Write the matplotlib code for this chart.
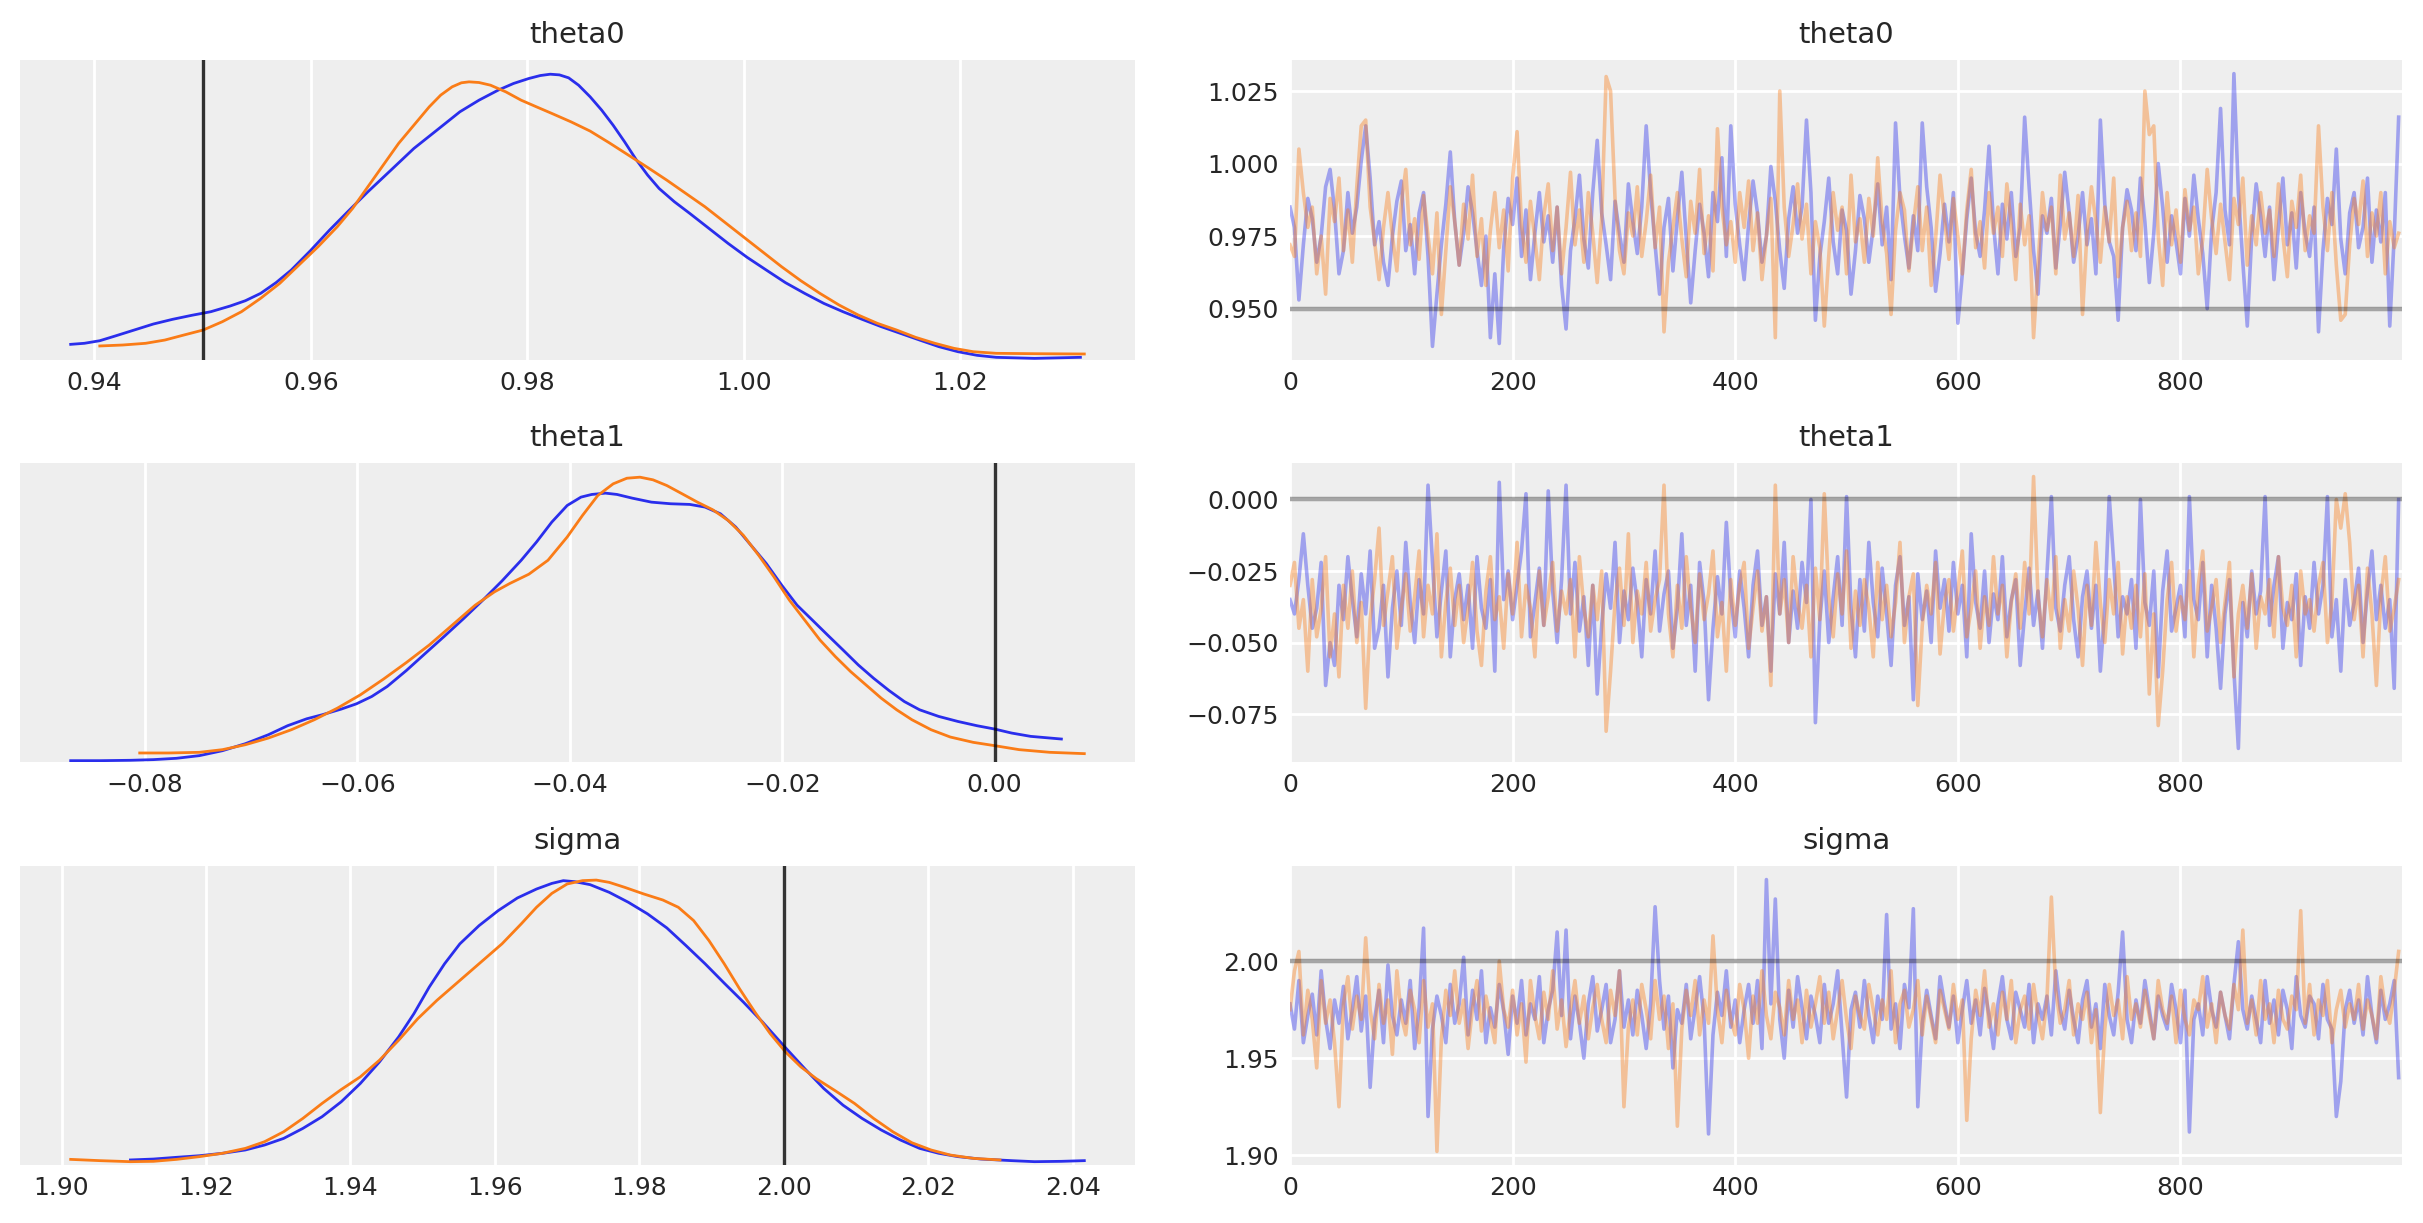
import numpy as np
import matplotlib
matplotlib.use('Agg')
import matplotlib.pyplot as plt
from matplotlib.ticker import MultipleLocator

# posterior trace plot, two chains, 3 parameters
names = ['theta0', 'theta1', 'sigma']
ref_vals = [0.95, 0.0, 2.0]
colors = ['#2a2eec', '#fa7c17']

# KDE curves (x, density), chain 0 / chain 1
kde_x = {
    'theta0': [
        [0.93781, 0.93908, 0.94050, 0.94191, 0.94368, 0.94545, 0.94722, 0.94899, 0.95076, 0.95253,
         0.95395, 0.95536, 0.95678, 0.95819, 0.95996, 0.96173, 0.96350, 0.96527, 0.96740, 0.96952,
         0.97165, 0.97377, 0.97554, 0.97731, 0.97873, 0.98014, 0.98120, 0.98212, 0.98297, 0.98382,
         0.98474, 0.98581, 0.98687, 0.98793, 0.98899, 0.99005, 0.99112, 0.99218, 0.99359, 0.99501,
         0.99678, 0.99855, 1.00032, 1.00209, 1.00386, 1.00563, 1.00740, 1.00917, 1.01094, 1.01271,
         1.01448, 1.01625, 1.01802, 1.01979, 1.02156, 1.02333, 1.02687, 1.03111],
        [0.94050, 0.94262, 0.94474, 0.94651, 0.94828, 0.95005, 0.95182, 0.95359, 0.95536, 0.95713,
         0.95890, 0.96067, 0.96244, 0.96386, 0.96527, 0.96669, 0.96811, 0.96952, 0.97094, 0.97200,
         0.97306, 0.97391, 0.97462, 0.97554, 0.97660, 0.97802, 0.97943, 0.98085, 0.98227, 0.98404,
         0.98581, 0.98758, 0.98935, 0.99112, 0.99288, 0.99465, 0.99642, 0.99819, 0.99996, 1.00173,
         1.00350, 1.00527, 1.00704, 1.00881, 1.01058, 1.01235, 1.01412, 1.01589, 1.01766, 1.01943,
         1.02120, 1.02333, 1.02687, 1.03147]],
    'theta1': [
        [-0.08700, -0.08426, -0.08137, -0.07921, -0.07704, -0.07488, -0.07271, -0.07055, -0.06839, -0.06658,
         -0.06478, -0.06334, -0.06153, -0.06009, -0.05865, -0.05720, -0.05540, -0.05360, -0.05179, -0.04999,
         -0.04819, -0.04638, -0.04458, -0.04314, -0.04170, -0.04025, -0.03895, -0.03794, -0.03665, -0.03556,
         -0.03412, -0.03232, -0.03051, -0.02871, -0.02727, -0.02583, -0.02438, -0.02294, -0.02150, -0.02005,
         -0.01861, -0.01717, -0.01573, -0.01428, -0.01284, -0.01140, -0.00995, -0.00851, -0.00707, -0.00527,
         -0.00346, -0.00166, 0.00000, 0.00159, 0.00339, 0.00628],
        [-0.08050, -0.07776, -0.07488, -0.07271, -0.07055, -0.06839, -0.06622, -0.06406, -0.06189, -0.05973,
         -0.05756, -0.05540, -0.05324, -0.05107, -0.04891, -0.04710, -0.04566, -0.04386, -0.04206, -0.04025,
         -0.03881, -0.03737, -0.03592, -0.03463, -0.03340, -0.03217, -0.03087, -0.02943, -0.02799, -0.02655,
         -0.02510, -0.02366, -0.02222, -0.02078, -0.01933, -0.01789, -0.01645, -0.01500, -0.01356, -0.01212,
         -0.01068, -0.00923, -0.00779, -0.00599, -0.00418, -0.00202, 0.00000, 0.00231, 0.00519, 0.00844]],
    'sigma': [
        [1.90954, 1.91273, 1.91591, 1.91909, 1.92227, 1.92545, 1.92810, 1.93075, 1.93340, 1.93606,
         1.93871, 1.94136, 1.94401, 1.94666, 1.94878, 1.95090, 1.95302, 1.95514, 1.95780, 1.96045,
         1.96310, 1.96575, 1.96787, 1.96946, 1.97105, 1.97317, 1.97582, 1.97847, 1.98112, 1.98378,
         1.98643, 1.98908, 1.99173, 1.99438, 1.99703, 2.00011, 2.00286, 2.00551, 2.00817, 2.01082,
         2.01347, 2.01612, 2.01877, 2.02142, 2.02407, 2.02725, 2.03150, 2.03468, 2.03839, 2.04157],
        [1.90127, 1.90530, 1.90954, 1.91273, 1.91591, 1.91909, 1.92227, 1.92545, 1.92810, 1.93075,
         1.93340, 1.93606, 1.93871, 1.94136, 1.94401, 1.94666, 1.94931, 1.95196, 1.95514, 1.95832,
         1.96097, 1.96363, 1.96575, 1.96787, 1.96999, 1.97211, 1.97402, 1.97582, 1.97794, 1.98059,
         1.98324, 1.98537, 1.98749, 1.98961, 1.99173, 1.99385, 1.99597, 1.99809, 2.00021, 2.00233,
         2.00445, 2.00711, 2.00976, 2.01241, 2.01506, 2.01771, 2.02036, 2.02301, 2.02619, 2.02990]],
}
kde_y = {
    'theta0': [
        [1.64, 1.75, 2.02, 2.51, 3.14, 3.77, 4.26, 4.68, 5.06, 5.65,
         6.21, 6.98, 8.10, 9.42, 11.45, 13.61, 15.64, 17.62, 19.89, 22.16,
         24.08, 26.00, 27.22, 28.27, 28.97, 29.49, 29.80, 29.94, 29.87, 29.56,
         28.79, 27.57, 26.18, 24.60, 22.86, 21.01, 19.37, 17.97, 16.58, 15.36,
         13.79, 12.22, 10.75, 9.42, 8.10, 6.98, 5.93, 5.06, 4.26, 3.49,
         2.79, 2.09, 1.40, 0.87, 0.49, 0.28, 0.17, 0.28],
        [1.47, 1.57, 1.75, 2.09, 2.62, 3.14, 4.01, 5.06, 6.46, 8.03,
         9.95, 11.87, 13.96, 15.88, 18.15, 20.42, 22.69, 24.60, 26.52, 27.75,
         28.62, 29.04, 29.14, 29.07, 28.79, 28.09, 27.22, 26.52, 25.83, 24.95,
         23.98, 22.75, 21.46, 20.17, 18.85, 17.45, 16.05, 14.48, 12.91, 11.34,
         9.77, 8.31, 6.98, 5.76, 4.71, 3.84, 3.14, 2.37, 1.75, 1.22,
         0.87, 0.70, 0.66, 0.63]],
    'theta1': [
        [0.14, 0.14, 0.18, 0.25, 0.39, 0.67, 1.19, 1.93, 2.87, 3.82,
         4.55, 4.97, 5.57, 6.13, 6.90, 7.95, 9.63, 11.45, 13.27, 15.12,
         17.05, 19.08, 21.25, 23.17, 25.27, 27.02, 27.90, 28.18, 28.32, 28.18,
         27.79, 27.37, 27.20, 27.13, 26.85, 26.15, 24.75, 22.82, 20.90, 18.62,
         16.52, 14.95, 13.37, 11.80, 10.22, 8.82, 7.53, 6.37, 5.50, 4.80,
         4.27, 3.82, 3.47, 3.05, 2.70, 2.42],
        [0.95, 0.95, 1.02, 1.30, 1.82, 2.52, 3.40, 4.45, 5.67, 7.07,
         8.72, 10.47, 12.32, 14.42, 16.52, 17.92, 18.80, 19.78, 21.25, 23.70,
         25.97, 28.07, 29.30, 29.89, 30.00, 29.72, 29.12, 28.25, 27.37, 26.57,
         25.45, 23.87, 21.77, 19.50, 17.05, 14.95, 12.85, 11.10, 9.52, 8.12,
         6.72, 5.50, 4.45, 3.40, 2.63, 2.07, 1.72, 1.30, 1.02, 0.88]],
    'sigma': [
        [0.44, 0.52, 0.67, 0.81, 1.02, 1.31, 1.74, 2.32, 3.19, 4.21,
         5.51, 7.11, 8.99, 11.17, 13.20, 15.52, 17.55, 19.29, 20.88, 22.19,
         23.29, 24.07, 24.56, 24.80, 24.71, 24.45, 23.78, 22.91, 21.90, 20.68,
         19.14, 17.55, 15.86, 14.21, 12.47, 10.30, 8.41, 6.67, 5.22, 4.06,
         3.05, 2.18, 1.45, 1.02, 0.73, 0.52, 0.38, 0.29, 0.32, 0.38],
        [0.49, 0.38, 0.29, 0.32, 0.49, 0.73, 1.02, 1.45, 2.03, 2.90,
         4.06, 5.37, 6.58, 7.69, 9.14, 10.88, 12.76, 14.36, 16.10, 17.84,
         19.29, 21.03, 22.48, 23.69, 24.51, 24.80, 24.85, 24.65, 24.22, 23.64,
         23.11, 22.48, 21.32, 19.58, 17.55, 15.37, 13.34, 11.46, 9.86, 8.56,
         7.54, 6.47, 5.37, 4.06, 2.90, 1.94, 1.31, 0.87, 0.58, 0.44]],
}

# every 4th draw of the two chains
draws = np.arange(0, 1000, 4)

theta0_c0 = [
    0.985, 0.978, 0.953, 0.972, 0.988, 0.981, 0.966, 0.975, 0.992, 0.998,
    0.984, 0.962, 0.970, 0.990, 0.976, 0.985, 1.001, 1.013, 0.995, 0.972,
    0.980, 0.966, 0.958, 0.975, 0.987, 0.994, 0.970, 0.979, 0.962, 0.983,
    0.990, 0.968, 0.937, 0.955, 0.972, 0.986, 1.004, 0.980, 0.965, 0.976,
    0.992, 0.983, 0.970, 0.958, 0.975, 0.940, 0.962, 0.938, 0.971, 0.988,
    0.979, 0.995, 0.968, 0.984, 0.960, 0.976, 0.990, 0.973, 0.982, 0.966,
    0.985, 0.958, 0.943, 0.970, 0.981, 0.996, 0.974, 0.964, 0.990, 1.008,
    0.983, 0.972, 0.960, 0.987, 0.976, 0.966, 0.993, 0.980, 0.969, 0.985,
    1.013, 0.990, 0.972, 0.955, 0.978, 0.988, 0.963, 0.981, 0.997, 0.974,
    0.952, 0.970, 0.986, 0.976, 0.961, 0.990, 0.980, 1.002, 0.968, 1.013,
    0.986, 0.972, 0.960, 0.979, 0.994, 0.983, 0.966, 0.975, 0.999, 0.987,
    0.970, 0.957, 0.981, 0.992, 0.976, 0.985, 1.015, 0.990, 0.946, 0.968,
    0.980, 0.995, 0.973, 0.962, 0.984, 0.977, 0.955, 0.970, 0.989, 0.981,
    0.966, 0.978, 0.993, 0.972, 0.985, 0.960, 1.014, 0.988, 0.975, 0.964,
    0.982, 0.970, 1.014, 0.992, 0.978, 0.956, 0.969, 0.986, 0.973, 0.990,
    0.945, 0.962, 0.981, 0.995, 0.976, 0.968, 0.984, 1.006, 0.979, 0.962,
    0.986, 0.974, 0.990, 0.968, 0.978, 1.016, 0.992, 0.970, 0.955, 0.982,
    0.976, 0.988, 0.964, 0.979, 0.997, 0.983, 0.966, 0.975, 0.990, 0.972,
    0.981, 0.962, 1.015, 0.986, 0.973, 0.968, 0.946, 0.978, 0.991, 0.984,
    0.970, 0.995, 0.980, 0.959, 0.976, 1.000, 0.985, 0.966, 0.982, 0.973,
    0.962, 0.988, 0.975, 0.996, 0.981, 0.969, 0.950, 0.977, 0.990, 1.019,
    0.984, 0.972, 1.031, 0.990, 0.966, 0.944, 0.975, 0.993, 0.982, 0.968,
    0.985, 0.960, 0.978, 0.995, 0.972, 0.983, 0.964, 0.990, 0.976, 0.968,
    0.985, 0.942, 0.970, 0.988, 0.979, 1.005, 0.974, 0.962, 0.983, 0.990,
    0.971, 0.978, 0.995, 0.966, 0.984, 0.973, 0.990, 0.944, 0.975, 1.016]
theta0_c1 = [
    0.972, 0.968, 1.005, 0.990, 0.978, 0.985, 0.962, 0.975, 0.955, 0.988,
    0.980, 0.995, 0.970, 0.984, 0.966, 0.992, 1.013, 1.015, 0.985, 0.973,
    0.960, 0.978, 0.990, 0.975, 0.963, 0.986, 0.998, 0.972, 0.981, 0.967,
    0.989, 0.975, 0.962, 0.983, 0.948, 0.970, 0.992, 0.980, 0.965, 0.986,
    0.974, 0.996, 0.968, 0.981, 0.958, 0.977, 0.990, 0.971, 0.984, 0.963,
    0.995, 1.011, 0.979, 0.966, 0.987, 0.974, 0.960, 0.982, 0.993, 0.970,
    0.985, 0.962, 0.978, 0.997, 0.972, 0.984, 0.966, 0.990, 0.976, 0.959,
    0.981, 1.030, 1.025, 0.988, 0.970, 0.962, 0.983, 0.975, 0.992, 0.968,
    0.980, 0.996, 0.971, 0.985, 0.942, 0.966, 0.978, 0.990, 0.974, 0.961,
    0.987, 0.976, 0.998, 0.969, 0.982, 0.963, 1.012, 0.985, 0.972, 0.980,
    0.966, 0.990, 0.978, 0.994, 0.970, 0.983, 0.960, 0.975, 0.988, 0.940,
    1.025, 0.985, 0.968, 0.979, 0.993, 0.974, 0.986, 0.962, 0.980, 0.971,
    0.944, 0.968, 0.990, 0.977, 0.985, 0.962, 0.996, 0.973, 0.981, 0.966,
    0.988, 0.975, 1.002, 0.980, 0.969, 0.948, 0.977, 0.990, 0.984, 0.963,
    0.979, 0.992, 0.970, 0.985, 0.958, 0.974, 0.996, 0.981, 0.967, 0.988,
    0.975, 0.962, 0.984, 0.998, 0.971, 0.980, 0.964, 0.990, 0.976, 0.985,
    0.968, 0.993, 0.979, 0.960, 0.986, 0.972, 0.982, 0.940, 0.965, 0.990,
    0.977, 0.985, 0.962, 0.996, 0.974, 0.983, 0.968, 0.989, 0.948, 0.976,
    0.992, 0.980, 0.966, 0.985, 0.973, 0.995, 0.961, 0.978, 0.987, 0.970,
    0.983, 0.968, 1.025, 1.010, 1.013, 0.975, 0.958, 0.990, 0.972, 0.984,
    0.966, 0.991, 0.977, 0.985, 0.962, 0.974, 0.998, 0.981, 0.969, 0.986,
    0.973, 0.960, 0.988, 0.979, 0.995, 0.965, 0.982, 0.972, 0.990, 0.976,
    0.984, 0.968, 0.993, 0.975, 0.961, 0.987, 0.978, 0.996, 0.970, 0.982,
    0.976, 1.013, 0.985, 0.970, 0.990, 0.965, 0.946, 0.948, 0.972, 0.988,
    0.979, 0.994, 0.968, 0.983, 0.975, 0.990, 0.962, 0.980, 0.971, 0.976]

theta1_c0 = [
    -0.035, -0.040, -0.028, -0.012, -0.030, -0.045, -0.038, -0.022, -0.065, -0.050,
    -0.058, -0.030, -0.042, -0.020, -0.035, -0.048, -0.026, -0.040, -0.018, -0.052,
    -0.045, -0.030, -0.062, -0.038, -0.025, -0.044, -0.015, -0.036, -0.050, -0.028,
    -0.040, 0.005, -0.022, -0.048, -0.032, -0.018, -0.055, -0.035, -0.026, -0.042,
    -0.030, -0.052, -0.020, -0.038, -0.045, -0.028, -0.060, 0.006, -0.035, -0.025,
    -0.042, -0.030, -0.018, 0.002, -0.048, -0.036, -0.024, -0.044, 0.003, -0.032,
    -0.050, -0.028, 0.005, -0.040, -0.022, -0.046, -0.034, -0.058, -0.030, -0.068,
    -0.044, -0.026, -0.038, -0.015, -0.050, -0.032, -0.042, -0.024, -0.036, -0.055,
    -0.028, -0.040, -0.018, -0.046, -0.033, -0.025, -0.052, -0.038, -0.012, -0.044,
    -0.030, -0.060, -0.022, -0.036, -0.070, -0.045, -0.027, -0.040, -0.008, -0.034,
    -0.048, -0.025, -0.038, -0.055, -0.030, -0.018, -0.044, -0.034, -0.060, -0.026,
    -0.040, -0.015, -0.050, -0.032, -0.045, -0.022, -0.036, 0.000, -0.078, -0.042,
    -0.025, -0.050, -0.034, -0.020, -0.044, 0.001, -0.038, -0.055, -0.028, -0.046,
    -0.015, -0.036, -0.048, -0.024, -0.040, -0.058, -0.030, -0.020, -0.044, -0.034,
    -0.070, -0.026, -0.042, -0.032, -0.050, -0.018, -0.038, -0.028, -0.046, -0.022,
    -0.040, -0.030, -0.055, -0.012, -0.036, -0.045, -0.025, -0.050, -0.033, -0.042,
    -0.020, -0.048, -0.035, -0.028, -0.058, -0.040, -0.024, -0.044, -0.032, -0.052,
    -0.026, 0.001, -0.038, -0.046, -0.030, -0.020, -0.042, -0.055, -0.034, -0.025,
    -0.045, -0.030, -0.060, -0.038, 0.001, -0.022, -0.048, -0.034, -0.040, -0.028,
    -0.052, 0.000, -0.036, -0.044, -0.025, -0.062, -0.032, -0.018, -0.046, -0.038,
    -0.030, -0.048, 0.001, -0.035, -0.042, -0.022, -0.055, -0.030, -0.045, -0.066,
    -0.040, -0.028, -0.060, -0.087, -0.036, -0.048, -0.025, -0.040, -0.032, 0.001,
    -0.044, -0.030, -0.020, -0.052, -0.036, -0.042, -0.026, -0.058, -0.034, -0.045,
    -0.022, -0.040, -0.030, 0.001, -0.048, -0.035, -0.060, -0.028, -0.044, -0.036,
    -0.024, -0.050, -0.032, -0.018, -0.042, -0.030, -0.045, -0.035, -0.066, 0.000]
theta1_c1 = [
    -0.030, -0.022, -0.045, -0.035, -0.060, -0.028, -0.048, -0.038, -0.020, -0.055,
    -0.040, -0.062, -0.030, -0.045, -0.025, -0.050, -0.036, -0.073, -0.042, -0.028,
    -0.010, -0.044, -0.032, -0.020, -0.052, -0.038, -0.026, -0.046, -0.034, -0.018,
    -0.048, -0.030, -0.040, -0.012, -0.055, -0.036, -0.024, -0.044, -0.030, -0.050,
    -0.038, -0.022, -0.046, -0.058, -0.032, -0.020, -0.042, -0.034, -0.052, -0.026,
    -0.040, -0.015, -0.048, -0.030, -0.038, -0.055, -0.025, -0.044, -0.034, -0.022,
    -0.046, -0.032, -0.040, -0.028, -0.055, -0.020, -0.038, -0.048, -0.030, -0.042,
    -0.025, -0.081, -0.060, -0.036, -0.024, -0.044, -0.012, -0.050, -0.032, -0.040,
    -0.022, -0.046, -0.035, -0.028, 0.005, -0.040, -0.055, -0.030, -0.045, -0.020,
    -0.038, -0.050, -0.026, -0.042, -0.033, -0.018, -0.048, -0.036, -0.060, -0.028,
    -0.044, -0.030, -0.022, -0.052, -0.038, -0.025, -0.046, -0.034, -0.065, 0.005,
    -0.040, -0.028, -0.050, -0.020, -0.036, -0.045, -0.030, -0.055, -0.024, -0.042,
    0.002, -0.034, -0.048, -0.026, -0.040, -0.018, -0.052, -0.032, -0.044, -0.028,
    -0.038, -0.055, -0.022, -0.042, -0.030, -0.048, -0.036, -0.015, -0.050, -0.034,
    -0.026, -0.072, -0.044, -0.030, -0.040, -0.022, -0.054, -0.036, -0.028, -0.046,
    -0.032, -0.018, -0.048, -0.038, -0.025, -0.052, -0.034, -0.044, -0.020, -0.040,
    -0.030, -0.055, -0.036, -0.026, -0.045, -0.022, -0.040, 0.008, -0.034, -0.048,
    -0.028, -0.042, -0.020, -0.052, -0.035, -0.046, -0.025, -0.038, -0.058, -0.030,
    -0.044, -0.015, -0.036, -0.050, -0.028, -0.040, -0.022, -0.054, -0.034, -0.045,
    -0.030, -0.048, -0.026, -0.068, -0.040, -0.079, -0.060, -0.035, -0.022, -0.046,
    -0.034, -0.042, -0.025, -0.055, -0.030, -0.018, -0.046, -0.038, -0.028, -0.050,
    -0.036, -0.022, -0.062, -0.040, -0.030, -0.045, -0.026, -0.052, -0.034, -0.040,
    -0.028, -0.048, -0.020, -0.038, -0.044, -0.030, -0.055, -0.025, -0.040, -0.035,
    -0.046, -0.030, -0.022, -0.050, -0.036, 0.000, -0.010, 0.002, -0.015, -0.042,
    -0.030, -0.055, -0.024, -0.040, -0.065, -0.034, -0.020, -0.046, -0.038, -0.028]

sigma_c0 = [
    1.978, 1.965, 1.990, 1.958, 1.972, 1.983, 1.962, 1.995, 1.970, 1.955,
    1.980, 1.968, 1.987, 1.960, 1.975, 1.992, 1.964, 1.982, 1.935, 1.970,
    1.985, 1.958, 1.998, 1.972, 1.962, 1.980, 1.968, 1.990, 1.955, 1.976,
    2.017, 1.920, 1.965, 1.982, 1.972, 1.958, 1.988, 1.968, 1.978, 2.002,
    1.962, 1.985, 1.970, 1.995, 1.958, 1.976, 1.966, 1.988, 1.974, 1.952,
    1.982, 1.968, 1.990, 1.962, 1.978, 1.970, 1.992, 1.958, 1.975, 1.985,
    2.015, 1.972, 2.016, 1.960, 1.982, 1.968, 1.950, 1.978, 1.992, 1.964,
    1.975, 1.988, 1.958, 1.970, 1.995, 1.966, 1.980, 1.962, 1.985, 1.972,
    1.955, 1.978, 2.028, 1.990, 1.965, 1.982, 1.945, 1.975, 1.968, 1.988,
    1.960, 1.976, 1.992, 1.970, 1.911, 1.962, 1.984, 1.972, 1.995, 1.966,
    1.980, 1.958, 1.975, 1.988, 1.968, 1.990, 1.955, 2.042, 1.978, 2.032,
    1.970, 1.950, 1.985, 1.966, 1.992, 1.976, 1.960, 1.982, 1.972, 1.958,
    1.988, 1.968, 1.978, 1.995, 1.962, 1.930, 1.975, 1.984, 1.966, 1.990,
    1.972, 1.958, 1.982, 1.970, 2.024, 1.965, 1.978, 1.955, 1.988, 1.976,
    2.027, 1.925, 1.968, 1.985, 1.972, 1.960, 1.992, 1.978, 1.966, 1.982,
    1.958, 1.975, 1.990, 1.968, 1.980, 1.962, 1.986, 1.972, 1.955, 1.978,
    1.992, 1.970, 1.960, 1.984, 1.975, 1.966, 1.988, 1.958, 1.978, 1.970,
    1.982, 1.962, 1.995, 1.975, 1.965, 1.985, 1.970, 1.958, 1.980, 1.990,
    1.966, 1.978, 1.955, 1.988, 1.972, 1.962, 1.984, 2.015, 1.970, 1.958,
    1.980, 1.968, 1.990, 1.975, 1.960, 1.982, 1.972, 1.965, 1.988, 1.975,
    1.958, 1.985, 1.912, 1.970, 1.978, 1.962, 1.992, 1.975, 1.966, 1.984,
    1.972, 1.960, 1.988, 2.010, 1.975, 1.965, 1.982, 1.970, 1.958, 1.990,
    1.968, 1.980, 1.962, 1.985, 1.975, 1.955, 1.992, 1.972, 1.966, 1.982,
    1.978, 1.960, 1.988, 1.970, 1.965, 1.920, 1.938, 1.975, 1.985, 1.968,
    1.980, 1.962, 1.992, 1.972, 1.958, 1.985, 1.970, 1.978, 1.990, 1.940]
sigma_c1 = [
    1.975, 1.995, 2.005, 1.962, 1.985, 1.970, 1.945, 1.990, 1.968, 1.980,
    1.958, 1.925, 1.978, 1.992, 1.965, 1.982, 1.970, 2.012, 1.975, 1.960,
    1.988, 1.968, 1.980, 1.952, 1.995, 1.972, 1.962, 1.985, 1.975, 1.958,
    1.990, 1.966, 1.978, 1.902, 1.960, 1.985, 1.972, 1.995, 1.968, 1.980,
    1.955, 1.976, 1.990, 1.964, 1.982, 1.970, 1.958, 2.000, 1.975, 1.966,
    1.985, 1.962, 1.978, 1.948, 1.990, 1.972, 1.960, 1.984, 1.970, 1.995,
    1.965, 1.980, 1.956, 1.975, 1.990, 1.968, 1.982, 1.960, 1.976, 1.988,
    1.970, 1.958, 1.985, 1.972, 1.995, 1.925, 1.966, 1.980, 1.962, 1.988,
    1.975, 1.960, 1.990, 1.970, 1.982, 1.955, 1.978, 1.915, 1.965, 1.985,
    1.972, 1.990, 1.962, 1.980, 1.968, 2.013, 1.975, 1.958, 1.985, 1.970,
    1.962, 1.988, 1.975, 1.950, 1.982, 1.968, 1.995, 1.972, 1.960, 1.984,
    1.976, 1.962, 1.990, 1.970, 1.980, 1.958, 1.985, 1.966, 1.978, 1.992,
    1.968, 1.984, 1.960, 1.975, 1.990, 1.970, 1.955, 1.982, 1.972, 1.965,
    1.988, 1.975, 1.962, 1.980, 1.970, 1.995, 1.958, 1.978, 1.985, 1.966,
    1.975, 1.990, 1.962, 1.982, 1.970, 1.958, 1.985, 1.975, 1.965, 1.988,
    1.970, 1.980, 1.918, 1.960, 1.985, 1.972, 1.995, 1.966, 1.978, 1.962,
    1.984, 1.970, 1.990, 1.958, 1.975, 1.982, 1.965, 1.988, 1.972, 1.960,
    1.980, 2.033, 1.985, 1.968, 1.975, 1.990, 1.962, 1.978, 1.970, 1.984,
    1.958, 1.975, 1.922, 1.965, 1.988, 1.972, 1.980, 1.960, 1.992, 1.970,
    1.978, 1.966, 1.985, 1.972, 1.960, 1.990, 1.975, 1.968, 1.982, 1.958,
    1.985, 1.970, 1.962, 1.980, 1.975, 1.992, 1.966, 1.978, 1.958, 1.984,
    1.972, 1.965, 1.988, 1.975, 2.016, 1.968, 1.980, 1.962, 1.990, 1.970,
    1.978, 1.958, 1.985, 1.970, 1.965, 1.982, 1.975, 2.026, 1.968, 1.988,
    1.962, 1.980, 1.972, 1.990, 1.958, 1.975, 1.985, 1.966, 1.978, 1.970,
    1.988, 1.965, 1.980, 1.972, 1.960, 1.992, 1.975, 1.968, 1.985, 2.005]

traces = {'theta0': [theta0_c0, theta0_c1],
          'theta1': [theta1_c0, theta1_c1],
          'sigma': [sigma_c0, sigma_c1]}
trace_step = {'theta0': 0.025, 'theta1': 0.025, 'sigma': 0.05}

plt.rcParams['font.family'] = 'DejaVu Sans'
plt.rcParams['text.color'] = '#262626'
plt.rcParams['xtick.color'] = '#262626'
plt.rcParams['ytick.color'] = '#262626'

W, H = 2423, 1223
fig = plt.figure(figsize=(W / 200, H / 200), dpi=200)

# axes boxes in pixels: (left, right) columns, (top, bottom) rows
cols = [(20, 1135), (1290, 2402)]
rows = [(60, 360), (463, 762), (866, 1165)]


def make_ax(c, r):
    x0, x1 = cols[c]
    y0, y1 = rows[r]
    ax = fig.add_axes([x0 / W, 1 - y1 / H, (x1 - x0) / W, (y1 - y0) / H])
    ax.set_facecolor('#eeeeee')
    for s in ax.spines.values():
        s.set_visible(False)
    ax.grid(True, color='white', lw=1.0)
    ax.set_axisbelow(True)
    ax.tick_params(length=0, labelsize=9, pad=4)
    return ax


for i, name in enumerate(names):
    # left: kde per chain
    ax = make_ax(0, i)
    for j in range(2):
        ax.plot(kde_x[name][j], kde_y[name][j], color=colors[j], lw=1.0)
    ax.axvline(ref_vals[i], color='black', alpha=0.8, lw=1.2)
    ax.set_ylim(bottom=0)
    ax.set_yticks([])
    ax.grid(False, axis='y')
    ax.set_title(name, fontsize=10.5)

    # right: trace per chain
    ax = make_ax(1, i)
    for j in range(2):
        ax.plot(draws, traces[name][j], color=colors[j], alpha=0.4, lw=1.3)
    ax.axhline(ref_vals[i], color='black', alpha=0.35, lw=1.6, zorder=3)
    ax.set_xlim(0, 999)
    ax.set_xticks([0, 200, 400, 600, 800])
    ax.yaxis.set_major_locator(MultipleLocator(trace_step[name]))
    ax.set_title(name, fontsize=10.5)

fig.savefig('out.png', dpi=200)
